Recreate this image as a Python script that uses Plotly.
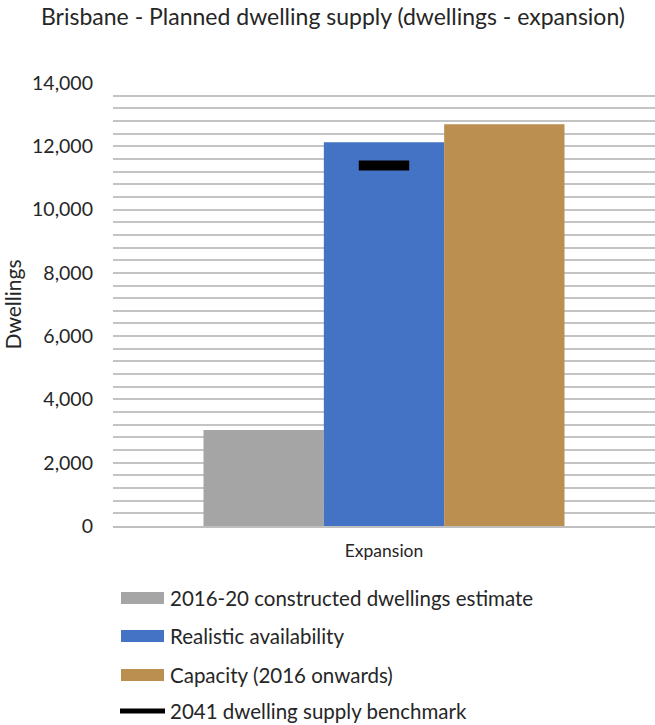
import plotly.graph_objects as go

# Data
category = ["Expansion"]
constructed_2016_20 = [3030]
realistic_availability = [12130]
capacity_2016_on = [12700]
benchmark_2041 = [11390]

series_names = [
    "2016-20 constructed dwellings estimate",
    "Realistic availability",
    "Capacity (2016 onwards)",
    "2041 dwelling supply benchmark",
]
bar_colors = ["#a5a5a5", "#4472c4", "#ba8f50"]

y_ticks = [0, 2000, 4000, 6000, 8000, 10000, 12000, 14000]
y_ticktext = ["0", "2,000", "4,000", "6,000", "8,000", "10,000", "12,000", "14,000"]

FONT = "Lato"
TEXT = "#262626"
W, H = 655, 725
M_L, M_R, M_T, M_B = 113, 0, 83, 199
PLOT_W = W - M_L - M_R
PLOT_H = H - M_T - M_B

fig = go.Figure()
for name, vals, col in zip(series_names[:3],
                           [constructed_2016_20, realistic_availability, capacity_2016_on],
                           bar_colors):
    fig.add_trace(go.Bar(x=category, y=vals, name=name, marker_color=col,
                         marker_line_width=0, showlegend=False))

fig.add_trace(go.Scatter(
    x=category, y=benchmark_2041, name=series_names[3], mode="markers",
    marker=dict(symbol="line-ew", size=36, line=dict(width=10, color="#000000")),
    showlegend=False,
))

# Hand-built legend below the plot
def px_to_paper_x(px):
    return (px - M_L) / PLOT_W

def px_to_paper_y(py):
    return (H - M_B - py) / PLOT_H

legend_rows = [598, 636, 675, 711]
shapes = []
annotations = []
for i, (name, row) in enumerate(zip(series_names, legend_rows)):
    if i < 3:
        shapes.append(dict(type="rect", xref="paper", yref="paper",
                           x0=px_to_paper_x(121), x1=px_to_paper_x(164),
                           y0=px_to_paper_y(row - 6), y1=px_to_paper_y(row + 6),
                           fillcolor=bar_colors[i], line=dict(width=0)))
    else:
        shapes.append(dict(type="line", xref="paper", yref="paper",
                           x0=px_to_paper_x(120), x1=px_to_paper_x(165),
                           y0=px_to_paper_y(row), y1=px_to_paper_y(row),
                           line=dict(color="#000000", width=5)))
    annotations.append(dict(text=name, xref="paper", yref="paper",
                            x=px_to_paper_x(168), y=px_to_paper_y(row),
                            xanchor="left", yanchor="middle", showarrow=False,
                            font=dict(family=FONT, size=20.5, color=TEXT)))

fig.update_layout(
    width=W, height=H,
    margin=dict(l=M_L, r=M_R, t=M_T, b=M_B),
    paper_bgcolor="white", plot_bgcolor="white",
    barmode="group", bargap=0.334, bargroupgap=0,
    title=dict(text="Brisbane - Planned dwelling supply (dwellings - expansion)",
               x=333 / W, xanchor="center", xref="container",
               y=1 - 17 / H, yanchor="middle", yref="container",
               font=dict(family=FONT, size=23, color=TEXT)),
    font=dict(family=FONT, color=TEXT),
    shapes=shapes,
    annotations=annotations,
    xaxis=dict(showgrid=False, showline=True, linecolor="#bfbfbf", linewidth=2,
               ticks="", tickfont=dict(family=FONT, size=17.5, color=TEXT),
               ticklabelstandoff=8),
    yaxis=dict(range=[0, 14000], tickvals=y_ticks, ticktext=y_ticktext,
               tickfont=dict(family=FONT, size=19.5, color=TEXT),
               showgrid=True, gridcolor="#c4c4c4", gridwidth=1.5,
               minor=dict(dtick=400, showgrid=True, gridcolor="#c4c4c4", gridwidth=1.5),
               showline=False, zeroline=False, ticks="", ticklabelstandoff=19,
               title=dict(text="Dwellings", standoff=8,
                          font=dict(family=FONT, size=21, color=TEXT))),
)

fig.write_html("out.html")
